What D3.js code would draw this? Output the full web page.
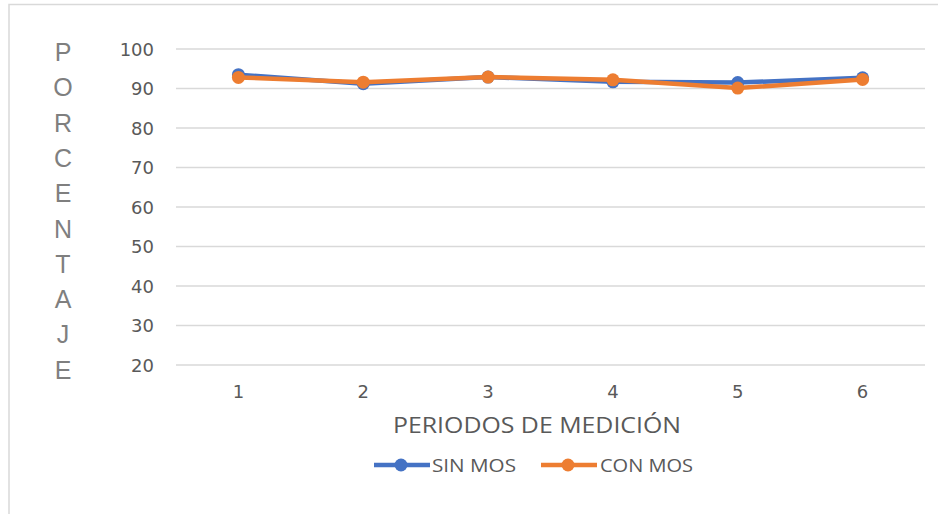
<!DOCTYPE html>
<html><head><meta charset="utf-8">
<script src="https://cdn.jsdelivr.net/npm/d3@7"></script>
<style>
html,body{margin:0;padding:0;background:#fff;}
svg{display:block;}
</style></head>
<body>
<svg id="chart" width="938" height="514"></svg>
<script>
const categories = ["1","2","3","4","5","6"];
const sinMos = [93.5, 91.2, 92.9, 91.7, 91.5, 92.7];
const conMos = [92.8, 91.6, 92.9, 92.2, 90.1, 92.3];
const yTicks = [20,30,40,50,60,70,80,90,100];
const yTitleLetters = ["P","O","R","C","E","N","T","A","J","E"];
const seriesNames = ["SIN MOS","CON MOS"];
const colors = ["#4472C4","#ED7D31"];

const svg = d3.select("#chart");
// frame
svg.append("rect").attr("x",9).attr("y",4.5).attr("width",940).attr("height",530)
  .attr("fill","#fff").attr("stroke","#d9d9d9").attr("stroke-width",1.5);

const x = d3.scaleBand().domain(categories).range([176,925]);
const y = d3.scaleLinear().domain([20,100]).range([365,49]);

// gridlines
svg.append("g").selectAll("line").data(yTicks).join("line")
  .attr("x1",176).attr("x2",925)
  .attr("y1",d=>y(d)).attr("y2",d=>y(d))
  .attr("stroke","#d9d9d9").attr("stroke-width",1.3);

const tickFont = "'DejaVu Sans', Verdana, sans-serif";
// y axis
const yAxis = svg.append("g").attr("transform","translate(154,0)")
  .call(d3.axisLeft(y).tickValues(yTicks).tickSize(0).tickPadding(0));
yAxis.select(".domain").remove();
yAxis.selectAll("text").attr("font-family",tickFont)
  .attr("font-size",18).attr("fill","#595959").attr("dy","0.36em");

// x axis
const xAxis = svg.append("g").attr("transform","translate(0,385)")
  .call(d3.axisBottom(x).tickSize(0).tickPadding(0));
xAxis.select(".domain").remove();
xAxis.selectAll("text").attr("font-family",tickFont)
  .attr("font-size",18).attr("fill","#595959").attr("dy","0.71em");

// y title, vertical letters
svg.append("g").selectAll("text").data(yTitleLetters).join("text")
  .attr("x",63).attr("y",(d,i)=>52+i*35.3)
  .attr("text-anchor","middle").attr("dominant-baseline","central")
  .attr("font-family","'Liberation Sans', Arial, sans-serif")
  .attr("font-size",25).attr("fill","#7f7f7f").text(d=>d);

// x title
svg.append("text").attr("x",537).attr("y",433)
  .attr("text-anchor","middle")
  .attr("font-family","'Liberation Sans Narrow','Open Sans', sans-serif")
  .attr("font-size",22).attr("fill","#595959")
  .attr("textLength",288).attr("lengthAdjust","spacingAndGlyphs")
  .text("PERIODOS DE MEDICIÓN");

const line = d3.line().x((d,i)=>x(categories[i])+x.bandwidth()/2).y(d=>y(d));
[sinMos, conMos].forEach((data,k)=>{
  const g = svg.append("g");
  g.append("path").datum(data).attr("d",line).attr("fill","none")
    .attr("stroke",colors[k]).attr("stroke-width",4.5).attr("stroke-linejoin","round");
  g.selectAll("circle").data(data).join("circle")
    .attr("cx",(d,i)=>x(categories[i])+x.bandwidth()/2).attr("cy",d=>y(d))
    .attr("r",6.5).attr("fill",colors[k]);
});

// legend
const legend = [
  {x1:374, x2:430, cx:401, tx:432, tl:84},
  {x1:541, x2:597, cx:568, tx:600, tl:93}
];
legend.forEach((L,k)=>{
  svg.append("line").attr("x1",L.x1).attr("x2",L.x2).attr("y1",465).attr("y2",465)
    .attr("stroke",colors[k]).attr("stroke-width",4.5);
  svg.append("circle").attr("cx",L.cx).attr("cy",465).attr("r",6.5).attr("fill",colors[k]);
  svg.append("text").attr("x",L.tx).attr("y",465).attr("dominant-baseline","central")
    .attr("font-family","'Liberation Sans Narrow','Open Sans', sans-serif")
    .attr("font-size",18).attr("fill","#595959")
    .attr("textLength",L.tl).attr("lengthAdjust","spacingAndGlyphs")
    .text(seriesNames[k]);
});
</script>
</body></html>
